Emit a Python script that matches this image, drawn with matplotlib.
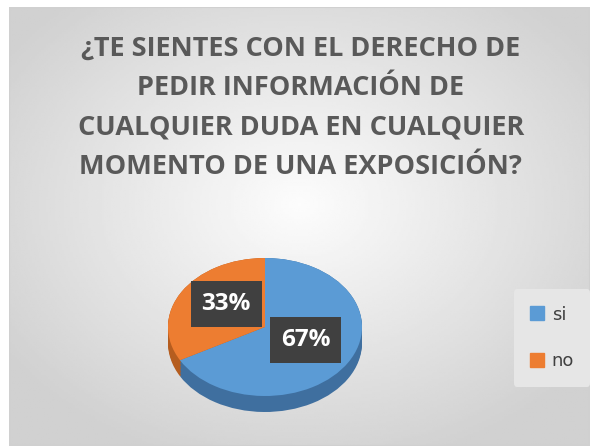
import numpy as np
import matplotlib.pyplot as plt
from matplotlib.patches import Rectangle

# datos
etiquetas = ["si", "no"]
valores = [67, 33]
colores = ["#5b9bd5", "#ed7d31"]
colores_lado = ["#3f6f9f", "#b55d1f"]
titulo = "¿TE SIENTES CON EL DERECHO DE\nPEDIR INFORMACIÓN DE\nCUALQUIER DUDA EN CUALQUIER\nMOMENTO DE UNA EXPOSICIÓN?"

W, H = 590, 446
fig = plt.figure(figsize=(W / 100, H / 100), dpi=100)
fig.patch.set_facecolor("white")

# fondo con degradado radial
bg = fig.add_axes([9 / W, 0, (W - 9) / W, (H - 7) / H])
yy, xx = np.mgrid[0:1:200j, 0:1:260j]
r = np.sqrt(((xx - 0.5) / 0.75) ** 2 + ((yy - 0.45) / 0.75) ** 2)
g = np.clip(0.99 - 0.21 * r, 0.82, 0.99)
bg.imshow(g, cmap="gray", vmin=0, vmax=1, aspect="auto", extent=[0, 1, 0, 1])
bg.set_xlim(0, 1)
bg.set_ylim(0, 1)
bg.axis("off")
bg.add_patch(Rectangle((0, 0), 1, 1, fill=False, edgecolor="#d0d0d0", lw=1.5))

# titulo
fig.text(0.51, 1 - 108 / H, titulo, ha="center", va="center", fontsize=19.5,
         fontweight="bold", color="#595959", family="Open Sans", linespacing=1.68)

# pastel inclinado (elipse): ejes mas anchos que altos
cx, cy, rx, ry, prof = 265, 327, 97, 69, 16
ax = fig.add_axes([(cx - rx) / W, 1 - (cy + ry + prof) / H, 2 * rx / W, (2 * ry + prof) / H])
for k in np.linspace(2 * prof / (2 * ry), 0.0, 12):
    ax.pie(valores, colors=colores_lado, startangle=90, counterclock=False,
           center=(0, -k), radius=1, frame=True)
ax.pie(valores, colors=colores, startangle=90, counterclock=False,
       center=(0, 0), radius=1, frame=True)
ax.set_aspect("auto")
ax.set_xlim(-1, 1)
ax.set_ylim(-1 - 2 * prof / (2 * ry), 1)
ax.axis("off")

# etiquetas de datos
pos = [(0.42, -0.19), (-0.40, 0.33)]
for v, (px, py) in zip(valores, pos):
    ax.text(px, py, f"{v}%", ha="center", va="center", fontsize=17.5, fontweight="bold",
            color="white", family="Open Sans",
            bbox=dict(boxstyle="square,pad=0.45", facecolor="#404040", edgecolor="none"))

# leyenda
handles = [Rectangle((0, 0), 1, 1, color=c) for c in colores]
fig.legend(handles, etiquetas, loc="center", bbox_to_anchor=(552 / W, 1 - 338 / H),
           frameon=True, facecolor="#e6e6e6", edgecolor="none", framealpha=1,
           fontsize=13, handlelength=0.8, handleheight=0.8, labelspacing=1.6,
           handletextpad=0.4, borderpad=0.9, labelcolor="#404040")

fig.savefig("out.png", dpi=100)
